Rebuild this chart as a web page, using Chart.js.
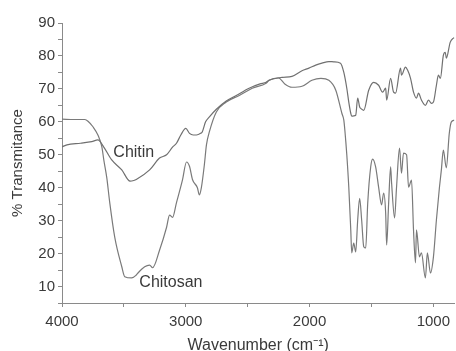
<!DOCTYPE html>
<html>
<head>
<meta charset="utf-8">
<script src="https://cdn.jsdelivr.net/npm/chart.js@4/dist/chart.umd.min.js"></script>
<style>
html,body{margin:0;padding:0;background:#fff;}
#wrap{width:456px;height:351px;position:relative;}
</style>
</head>
<body>
<div id="wrap"><canvas id="c" width="456" height="351"></canvas></div>
<script>
// ---- data ----
const chitinWn = [4000,3960,3850,3760,3710,3665,3600,3517,3450,3420,3400,3292,3212,3155,3107,3075,3040,3000,2970,2940,2914,2880,2866,2840,2809,2753,2673,2592,2488,2400,2351,2327,2222,2142,2061,2005,1950,1900,1844,1804,1750,1723,1699,1683,1667,1659,1643,1627,1611,1595,1587,1562,1522,1482,1442,1410,1385,1377,1345,1321,1305,1265,1257,1225,1208,1184,1160,1136,1120,1096,1064,1039,1015,999,975,959,943,919,903,895,863,838,830];
const chitinT  = [52.4,53,53.5,54,54.5,52.5,48.5,45.4,42,42.2,42.5,45.4,49,50,52.3,53.5,56,58,56.5,56,56,56.5,57,60,61.5,63.8,66.3,68,70.2,71.5,72,72.6,73.5,73.8,75.5,76.3,77.2,77.8,78.3,78.2,77.8,75,70.2,66,62.6,61.7,61.8,62,67.2,64.5,64.1,63.5,69.6,72,71.1,69,70.2,66.6,73.2,69,68.7,76.3,74.2,76.6,75.7,73.2,69,67.2,68.7,66.6,65,66.6,65.6,66,71.1,74.2,73.2,80.2,81.1,79.3,84.2,85.4,85.5];

const chitosanWn = [4000,3900,3815,3790,3750,3710,3678,3662,3638,3614,3574,3517,3493,3437,3400,3389,3332,3292,3268,3212,3155,3131,3107,3075,3027,2994,2970,2946,2906,2890,2874,2850,2833,2809,2753,2673,2568,2463,2351,2327,2250,2200,2142,2061,1981,1908,1844,1788,1739,1723,1707,1699,1683,1667,1659,1643,1627,1611,1595,1579,1562,1546,1530,1506,1490,1466,1442,1418,1401,1385,1377,1361,1345,1337,1313,1297,1273,1257,1241,1216,1200,1176,1160,1144,1136,1112,1096,1064,1048,1023,999,975,951,935,919,895,871,854,830];
const chitosanT  = [60.8,60.7,60.7,60.2,58.5,56,52.4,48.4,43,35.4,25,16,13,12.6,13.5,14,16,16.5,15.7,21,28,31.7,31,35.5,42.3,47.8,46.5,42.5,40,37.8,40,46.9,53,57,63,66,68,70.2,71.7,72.6,73.3,71.5,70.5,70.8,72.6,73.2,72.6,69.6,62.6,60.5,54,50,40.2,27.2,20.2,23.2,20.5,30.2,36.8,30.2,22.1,21.7,35.3,46.3,48.7,46.3,40.2,34.8,38.4,32.3,22.6,35.3,46.3,41.4,30.8,40.2,52,44.4,50.5,50,40.2,42.3,27.2,17.2,27.2,19,20.2,12.6,20.2,14.1,19,30.2,39.9,45.4,51.4,46,56.5,60,60.5];

const xTickValues = [4000,3500,3000,2500,2000,1500,1000];
const xTickLabels = ['4000','','3000','','2000','','1000'];
const yTickLabels = ['10','20','30','40','50','60','70','80','90'];

const seriesNames = ['Chitin','Chitosan'];
const labelWn = [3585, 3375];
const labelT  = [50.8, 11.1];

// ---- chart ----
const toPts = (xs, ys) => xs.map((x, i) => ({x: x, y: ys[i]}));
const FONT = "'Liberation Sans', Arial, sans-serif";
const TXT = '#3a3a3a';

const seriesLabels = {
  id: 'seriesLabels',
  afterDatasetsDraw(chart) {
    const {ctx, scales} = chart;
    ctx.save();
    ctx.fillStyle = TXT;
    ctx.font = '16px ' + FONT;
    ctx.textAlign = 'left';
    ctx.textBaseline = 'middle';
    seriesNames.forEach((n, i) => {
      ctx.fillText(n, scales.x.getPixelForValue(labelWn[i]), scales.y.getPixelForValue(labelT[i]));
    });
    ctx.restore();
  }
};

new Chart(document.getElementById('c'), {
  type: 'line',
  data: {
    datasets: [
      {label: seriesNames[0], data: toPts(chitinWn, chitinT), borderColor: '#707070', borderWidth: 1.2, pointRadius: 0, cubicInterpolationMode: 'monotone', fill: false},
      {label: seriesNames[1], data: toPts(chitosanWn, chitosanT), borderColor: '#7a7a7a', borderWidth: 1.2, pointRadius: 0, cubicInterpolationMode: 'monotone', fill: false}
    ]
  },
  options: {
    responsive: false,
    animation: false,
    events: [],
    layout: {padding: {top: 23, right: 0, left: 0, bottom: 0}},
    plugins: {legend: {display: false}, tooltip: {enabled: false}},
    scales: {
      x: {
        type: 'linear', reverse: true, min: 830, max: 4000,
        afterBuildTicks(s) { s.ticks = xTickValues.map(v => ({value: v})); },
        afterFit(s) { s.height = 48; },
        grid: {drawOnChartArea: false, drawTicks: true, tickLength: 4, color: '#8a8a8a'},
        border: {display: true, color: '#8a8a8a', width: 1},
        ticks: {
          autoSkip: false, maxRotation: 0, padding: 6, color: TXT,
          font: {family: FONT, size: 15},
          callback(v) { const i = xTickValues.indexOf(v); return i >= 0 ? xTickLabels[i] : ''; }
        },
        title: {display: true, text: 'Wavenumber (cm\u207B\u00B9)', color: TXT, font: {family: FONT, size: 16}, padding: {top: 6, bottom: -4}}
      },
      y: {
        type: 'linear', min: 5, max: 90,
        ticks: {
          stepSize: 5, autoSkip: false, padding: 3, color: TXT,
          font: {family: FONT, size: 15},
          callback(v) { const s = String(v); return yTickLabels.includes(s) ? s : ''; }
        },
        afterFit(s) { s.width = 62; },
        grid: {drawOnChartArea: false, drawTicks: true, tickLength: 4, color: '#8a8a8a'},
        border: {display: true, color: '#8a8a8a', width: 1},
        title: {display: true, text: '% Transmitance', color: TXT, font: {family: FONT, size: 15}, padding: {top: 9, bottom: 2}}
      }
    }
  },
  plugins: [seriesLabels]
});
</script>
</body>
</html>
